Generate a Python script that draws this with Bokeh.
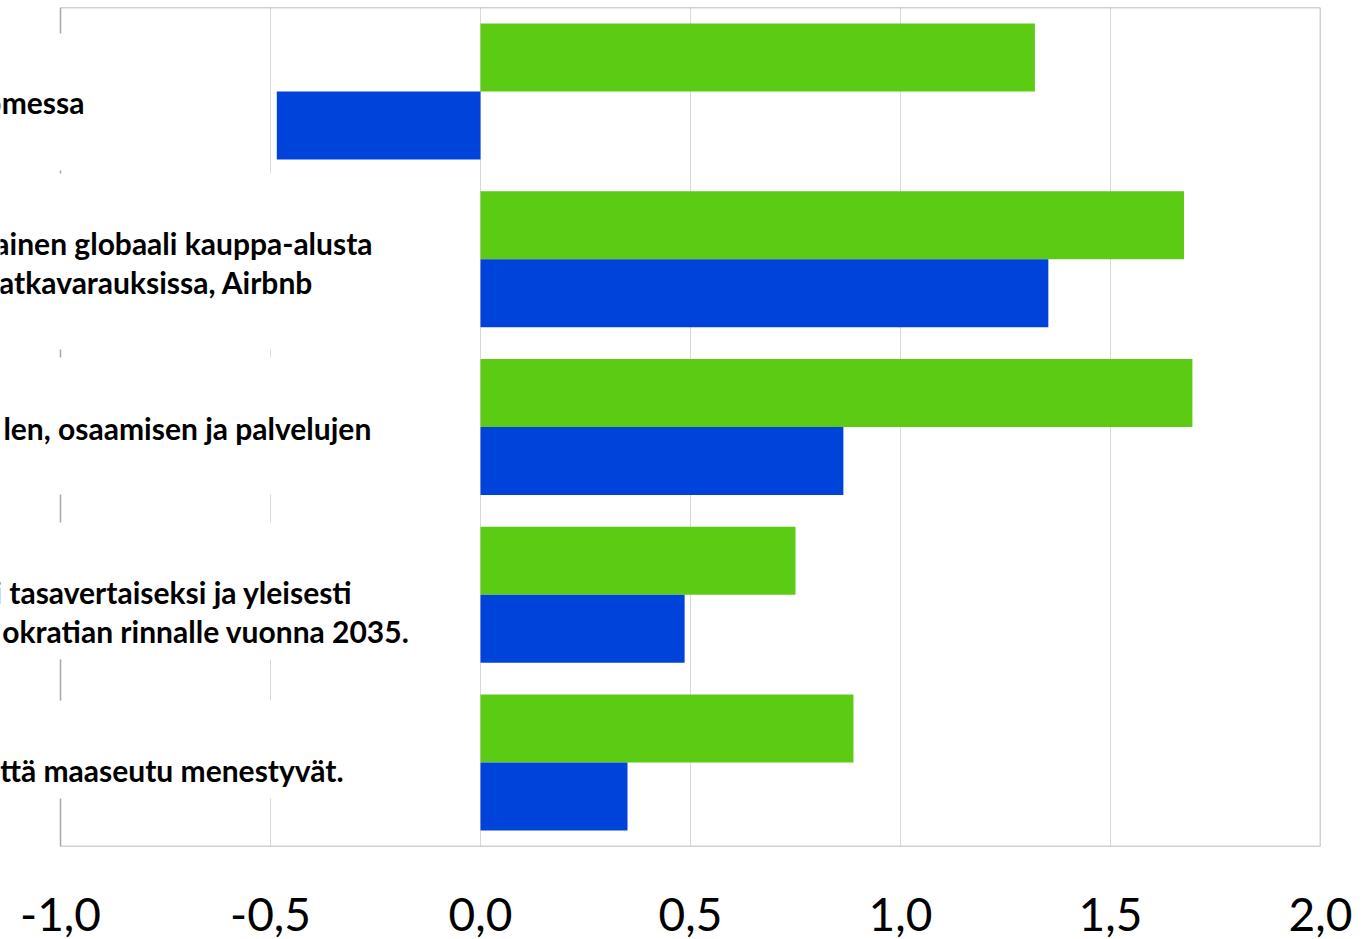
from bokeh.plotting import figure
from bokeh.models import Range1d, FixedTicker, Label, ColumnDataSource
from bokeh.embed import file_html
from bokeh.resources import INLINE

# ---- data (category labels are cropped in the source) ----
category_labels = [
    ["omessa"],
    ["ainen globaali kauppa-alusta", "atkavarauksissa, Airbnb"],
    ["len, osaamisen ja palvelujen"],
    ["i tasavertaiseksi ja yleisesti", "okratian rinnalle vuonna 2035."],
    ["ttä maaseutu menestyvät."],
]
green_values = [1.32, 1.675, 1.695, 0.75, 0.888]
blue_values = [-0.485, 1.352, 0.864, 0.486, 0.35]
tick_values = [-1.0, -0.5, 0.0, 0.5, 1.0, 1.5, 2.0]
tick_labels = ["-1,0", "-0,5", "0,0", "0,5", "1,0", "1,5", "2,0"]

GREEN = "#5BCB14"
BLUE = "#0043DB"
BORDER = "#a6a6a6"

# ---- layout constants (label placement, in data units) ----
label_line_y = [[4.434], [3.594, 3.367], [2.497], [1.514, 1.287], [0.453]]
label_line_xend = [[-0.943], [-0.257, -0.398], [-0.26], [-0.305, -0.169], [-0.326]]
label_box = [  # (bottom, top, right)
    (4.029, 4.845, -0.93),
    (2.962, 4.011, -0.245),
    (2.098, 2.914, -0.245),
    (1.114, 1.931, -0.155),
    (0.286, 0.870, -0.31),
]

n = len(category_labels)
centers = [n - 0.5 - i for i in range(n)]
off = 0.2026
bar_h = 0.405
x0, x1 = tick_values[0], tick_values[-1]

p = figure(width=1363, height=939, x_range=Range1d(x0 - 60 / 420, x1), y_range=Range1d(0, 5),
           output_backend="svg", toolbar_location=None, y_axis_location=None,
           min_border_left=0, min_border_right=43, min_border_top=7, min_border_bottom=93)
p.outline_line_color = None
p.background_fill_color = "white"
p.border_fill_color = "white"

p.ygrid.visible = False
p.xgrid.ticker = FixedTicker(ticks=tick_values)
p.xgrid.grid_line_color = "#d9d9d9"
p.xgrid.grid_line_width = 1

ax = p.xaxis[0]
ax.ticker = FixedTicker(ticks=tick_values)
ax.major_label_overrides = {v: s for v, s in zip(tick_values, tick_labels)}
ax.axis_line_color = None
ax.major_tick_line_color = None
ax.minor_tick_line_color = None
ax.major_tick_out = 0
ax.major_tick_in = 0
ax.major_label_standoff = 51
ax.major_label_text_font = "Lato"
ax.major_label_text_font_size = "46px"
ax.major_label_text_color = "#000000"
ax.major_label_text_line_height = 0.7

# plot-area border (left axis line, top, right, bottom)
p.segment(x0=[x0, x1, x0, x0], y0=[0, 0, 0, 5], x1=[x0, x1, x1, x1], y1=[5, 5, 0, 5],
          line_color=BORDER, line_width=1.5)

# white backgrounds of the category labels
p.quad(left=[x0 - 0.3] * n, right=[b[2] for b in label_box],
       bottom=[b[0] for b in label_box], top=[b[1] for b in label_box],
       fill_color="white", line_color=None)

src = ColumnDataSource(dict(
    yg=[c + off for c in centers], yb=[c - off for c in centers],
    g=green_values, b=blue_values))
p.hbar(y="yg", left=0, right="g", height=bar_h, source=src,
       fill_color=GREEN, line_color=None)
p.hbar(y="yb", left=0, right="b", height=bar_h, source=src,
       fill_color=BLUE, line_color=None)

for lines, ys, xs in zip(category_labels, label_line_y, label_line_xend):
    for txt, y, x in zip(lines, ys, xs):
        p.add_layout(Label(x=x, y=y, text=txt, text_align="right",
                           text_baseline="middle", text_font="Lato",
                           text_font_style="bold", text_font_size="30px",
                           text_color="#000000"))

open("out.html", "w").write(file_html(p, INLINE))
